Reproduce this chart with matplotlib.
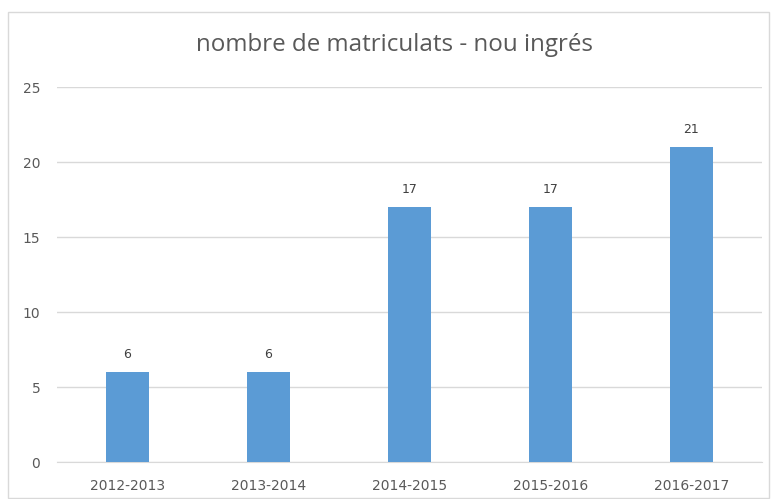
import matplotlib.pyplot as plt
from matplotlib.patches import Rectangle

years = ["2012-2013", "2013-2014", "2014-2015", "2015-2016", "2016-2017"]
matriculats = [6, 6, 17, 17, 21]
yticks = [0, 5, 10, 15, 20, 25]

plt.rcParams['font.family'] = ['DejaVu Sans']

fig = plt.figure(figsize=(7.71, 4.99), dpi=100)
# chart frame
fig.patches.append(Rectangle((8 / 771, 1 / 499), 761 / 771, 486 / 499, transform=fig.transFigure,
                             fill=False, edgecolor="#d9d9d9", linewidth=1))

ax = fig.add_axes([57 / 771, 37 / 499, 705 / 771, 374.7 / 499])
x = range(len(years))
ax.bar(x, matriculats, width=0.305, color="#5b9bd5", zorder=3)
for xi, v in zip(x, matriculats):
    ax.text(xi, v + 0.75, str(v), ha="center", va="bottom", fontsize=9, color="#404040")

ax.set_xlim(-0.5, len(years) - 0.5)
ax.set_ylim(0, 25)
ax.set_yticks(yticks)
ax.set_xticks(list(x))
ax.set_xticklabels(years)
ax.grid(axis="y", color="#d9d9d9", linewidth=1, zorder=0)
for s in ["top", "right", "left"]:
    ax.spines[s].set_visible(False)
ax.spines["bottom"].set_color("#d9d9d9")
ax.tick_params(length=0, labelsize=10, labelcolor="#595959")
ax.tick_params(axis="y", pad=12)
ax.tick_params(axis="x", pad=12)

fig.text(395 / 771, 1 - 45 / 499, "nombre de matriculats - nou ingrés", ha="center", va="center",
         fontsize=17.4, color="#595959", family=["Open Sans", "DejaVu Sans"])

fig.savefig("out.png", dpi=100)
